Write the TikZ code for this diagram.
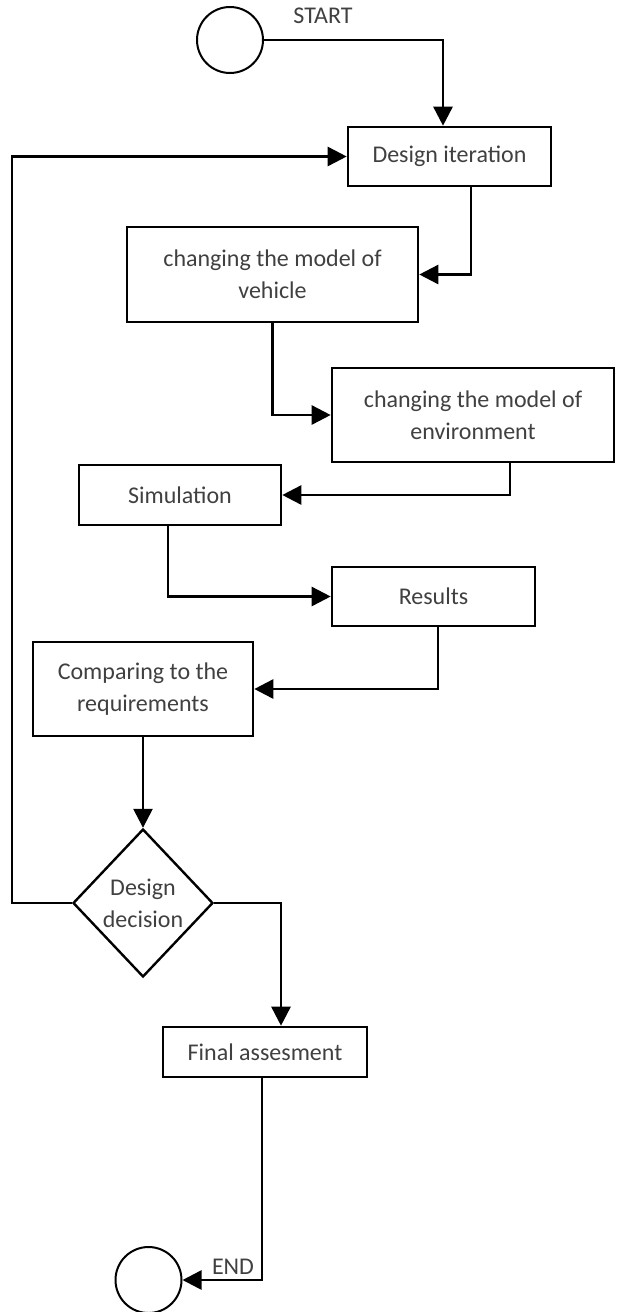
\documentclass[tikz,border=0pt]{standalone}
\usepackage{fontspec}
\setmainfont{Carlito}
\usetikzlibrary{arrows.meta,shapes.geometric}
\begin{document}
\begin{tikzpicture}[x=1pt,y=-1pt,
  every node/.style={font=\fontsize{24}{32}\selectfont, text=black!75},
  box/.style={draw=black, line width=2.6pt, rectangle, inner sep=0pt, align=center},
  term/.style={draw=black, line width=2pt, circle, minimum size=66pt, inner sep=0pt},
  decide/.style={draw=black, line width=2.4pt, diamond, minimum width=140pt, minimum height=148pt, inner sep=0pt, align=center},
  conn/.style={draw=black, line width=2.6pt, -{Triangle[length=19pt,width=19pt]}},
  lbl/.style={inner sep=0pt}
]
\useasboundingbox (0,0) rectangle (616,1312);

\node[term] (start) at (230,40) {};
\node[lbl] (startlbl) at (323,16) {START};
\node[box, minimum width=203pt, minimum height=59pt] (design) at (449.5,156.5) {Design iteration};
\node[box, minimum width=291pt, minimum height=95pt] (vehicle) at (272.5,274.5) {changing the model of\\vehicle};
\node[box, minimum width=282pt, minimum height=94pt] (env) at (473,415) {changing the model of\\environment};
\node[box, minimum width=202pt, minimum height=60pt] (sim) at (180,495) {Simulation};
\node[box, minimum width=203pt, minimum height=59pt] (res) at (433.5,596.5) {Results};
\node[box, minimum width=220pt, minimum height=94pt] (comp) at (143,689) {Comparing to the\\requirements};
\node[decide] (dec) at (143,903) {Design\\decision};
\node[box, minimum width=204pt, minimum height=50pt] (final) at (265,1052) {Final assesment};
\node[term] (end) at (148.5,1280) {};
\node[lbl] (endlbl) at (233,1267) {END};

\draw[conn] (start.east) -| ([xshift=-6.5pt]design.north);
\draw[conn] ([xshift=21.5pt]design.south) |- (vehicle.east);
\draw[conn] (vehicle.south) |- (env.west);
\draw[conn] ([xshift=37pt]env.south) |- (sim.east);
\draw[conn] ([xshift=-12pt]sim.south) |- (res.west);
\draw[conn] ([xshift=4.5pt]res.south) |- (comp.east);
\draw[conn] (comp.south) -- (dec.north);
\draw[conn] (dec.west) -- ++(-60,0) |- (design.west);
\draw[conn] (dec.east) -| ([xshift=16pt]final.north);
\draw[conn] ([xshift=-3pt]final.south) |- (end.east);
\end{tikzpicture}
\end{document}
